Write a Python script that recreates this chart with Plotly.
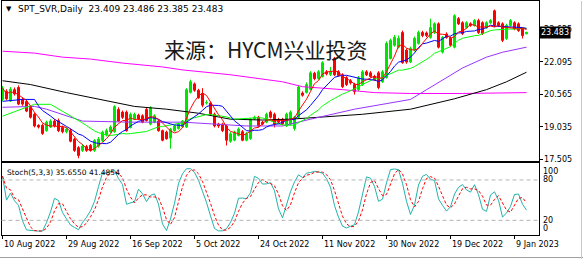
import plotly.graph_objects as go
import pandas as pd

# ---- daily candles ----
opens = [20.32, 20.70, 20.25, 20.78, 20.88, 20.32, 20.22, 19.95, 19.62, 19.10,
         19.10, 18.85, 19.02, 19.30, 19.32, 19.00, 18.80, 18.85, 18.45, 18.05,
         17.92, 18.10, 18.15, 17.92, 18.12, 18.38, 18.65, 18.80, 18.80, 19.85,
         19.72, 19.72, 19.00, 19.40, 19.58, 19.55, 19.85, 19.16, 19.25, 19.30,
         18.85, 18.78, 18.50, 18.85, 18.95, 19.02, 19.02, 20.65, 21.05, 20.75,
         20.60, 20.15, 20.15, 19.62, 19.16, 19.16, 19.07, 18.35, 18.40, 18.62,
         18.80, 18.40, 18.48, 19.40, 19.48, 19.25, 19.25, 19.72, 19.62, 19.38,
         19.38, 19.07, 19.16, 18.95, 19.48, 20.62, 20.65, 20.80, 21.55, 21.30,
         21.40, 21.62, 21.50, 22.25, 21.62, 21.48, 21.35, 21.20, 21.02, 20.78,
         21.02, 21.62, 21.57, 21.40, 21.57, 21.15, 21.35, 22.25, 22.87, 22.78,
         23.47, 22.64, 22.08, 22.64, 22.96, 23.47, 23.45, 23.24, 23.47, 23.88,
         22.55, 23.40, 23.20, 22.78, 24.12, 23.93, 23.70, 23.88, 23.80, 24.03,
         23.93, 23.70, 23.93, 24.49, 23.93, 23.88, 23.19, 23.80, 23.93, 23.88,
         23.65, 23.409]
highs = [20.95, 20.80, 20.90, 20.88, 20.98, 20.40, 20.30, 20.02, 19.70, 19.15,
         19.18, 19.32, 19.38, 19.40, 19.42, 19.08, 19.00, 18.95, 18.52, 18.12,
         18.22, 18.18, 18.22, 18.45, 18.55, 18.85, 18.95, 19.10, 20.05, 19.95,
         19.80, 19.80, 19.70, 19.70, 19.65, 19.62, 19.92, 20.00, 19.62, 19.38,
         18.90, 18.85, 18.98, 19.12, 19.22, 19.35, 20.85, 21.25, 21.12, 20.82,
         20.85, 20.28, 20.22, 19.70, 19.22, 19.22, 19.12, 18.78, 18.85, 19.00,
         18.88, 18.78, 19.45, 19.55, 19.55, 19.32, 19.70, 19.80, 19.70, 19.45,
         19.45, 19.70, 19.80, 19.55, 20.98, 20.70, 21.12, 21.65, 21.62, 21.70,
         22.12, 21.70, 21.85, 22.32, 21.70, 21.55, 21.42, 21.28, 21.10, 21.42,
         21.70, 21.70, 21.65, 21.48, 21.65, 21.70, 23.05, 23.18, 23.35, 23.33,
         23.56, 22.72, 22.80, 23.28, 23.56, 23.55, 23.52, 24.12, 23.95, 23.95,
         23.30, 23.48, 23.28, 24.33, 24.20, 24.00, 24.00, 23.95, 24.10, 24.12,
         24.00, 24.00, 24.10, 24.55, 24.00, 23.95, 23.88, 24.10, 24.00, 23.95,
         23.72, 23.486]
lows = [20.25, 20.28, 20.20, 20.50, 20.05, 20.02, 19.72, 19.42, 19.00, 18.95,
        18.65, 18.80, 18.98, 19.00, 18.78, 18.72, 18.72, 18.30, 17.85, 17.55,
        17.85, 17.85, 17.86, 17.85, 18.05, 18.32, 18.58, 18.75, 18.75, 19.25,
        19.40, 18.80, 18.95, 19.35, 19.35, 19.20, 19.28, 19.10, 19.20, 18.80,
        18.35, 18.42, 18.00, 18.80, 18.90, 18.98, 18.98, 20.60, 20.68, 20.35,
        19.95, 20.08, 19.55, 19.00, 18.98, 18.78, 18.15, 18.28, 18.35, 18.58,
        18.35, 18.35, 18.42, 19.35, 19.00, 19.10, 19.20, 19.42, 19.00, 19.20,
        19.10, 19.02, 19.10, 18.85, 19.42, 20.45, 20.60, 20.75, 21.22, 21.25,
        21.35, 21.45, 21.42, 21.42, 21.40, 20.85, 20.95, 21.02, 20.55, 20.72,
        20.95, 21.42, 21.35, 21.20, 20.80, 21.10, 21.30, 22.20, 22.80, 22.72,
        22.00, 22.00, 22.03, 22.58, 22.90, 23.25, 23.25, 23.18, 23.40, 22.72,
        22.48, 23.18, 22.80, 22.72, 23.82, 23.35, 23.65, 23.74, 23.75, 23.40,
        23.35, 23.65, 23.88, 23.72, 23.74, 23.02, 23.12, 23.75, 23.58, 23.50,
        23.19, 23.385]
closes = [20.85, 20.35, 20.80, 20.58, 20.10, 20.10, 19.77, 19.48, 19.07, 19.02,
          18.72, 19.25, 19.30, 19.07, 18.85, 18.80, 18.92, 18.35, 17.92, 17.68,
          18.12, 17.92, 17.92, 18.38, 18.45, 18.78, 18.85, 19.02, 19.98, 19.30,
          19.48, 18.85, 19.62, 19.62, 19.40, 19.25, 19.32, 19.92, 19.55, 18.85,
          18.40, 18.47, 18.92, 19.07, 19.16, 19.30, 20.78, 21.15, 20.75, 20.40,
          20.05, 20.18, 19.62, 19.07, 19.07, 18.85, 18.40, 18.70, 18.78, 18.92,
          18.40, 18.70, 19.38, 19.48, 19.07, 19.16, 19.62, 19.48, 19.16, 19.25,
          19.16, 19.62, 19.72, 19.48, 20.90, 20.52, 21.02, 21.57, 21.30, 21.62,
          22.05, 21.52, 21.62, 21.48, 21.45, 20.92, 21.02, 21.10, 20.69, 21.34,
          21.62, 21.48, 21.40, 21.25, 20.88, 21.62, 22.96, 23.10, 23.25, 23.20,
          22.05, 22.08, 22.72, 23.20, 23.47, 23.33, 23.33, 23.70, 23.88, 22.78,
          23.24, 23.24, 22.87, 24.26, 23.88, 23.42, 23.93, 23.80, 24.03, 23.47,
          23.42, 23.93, 24.03, 23.80, 23.80, 23.10, 23.80, 24.03, 23.65, 23.56,
          23.33, 23.483]

# ---- time axis labels (bar index of each label) ----
tick_bars = [0, 16, 32, 48, 64, 80, 96, 112, 128]
tick_labels = ["10 Aug 2022", "29 Aug 2022", "16 Sep 2022", "5 Oct 2022",
               "24 Oct 2022", "11 Nov 2022", "30 Nov 2022", "19 Dec 2022",
               "9 Jan 2023"]
price_ticks = [17.505, 19.035, 20.565, 22.095, 23.625]

# ---- slow moving averages (bar index, value) ----
ma50_bars = [0, 8, 11, 20, 32, 45, 61, 70, 77, 88, 102, 110, 115, 121, 125, 131]
ma50_vals = [19.95, 19.99, 19.86, 19.30, 19.25, 19.25, 19.07, 19.07, 19.39,
             19.86, 20.32, 21.25, 21.80, 22.31, 22.54, 22.78]
ma100_bars = [0, 7, 16, 24, 33, 41, 49, 57, 65, 72, 80, 90, 102, 113, 121, 126, 131]
ma100_vals = [21.20, 21.02, 20.64, 20.32, 19.99, 19.86, 19.67, 19.39, 19.35,
              19.39, 19.49, 19.62, 19.86, 20.35, 20.78, 21.15, 21.60]
ma200_bars = [0, 8, 15, 22, 30, 40, 45, 57, 70, 75, 85, 93, 102, 115, 131]
ma200_vals = [22.59, 22.50, 22.31, 22.22, 22.03, 21.85, 21.71, 21.48, 21.15,
              20.92, 20.78, 20.64, 20.60, 20.60, 20.64]
# start of the 10- and 20-bar averages (their history lies left of the window)
ma10_lead_bars = [0, 5, 8]
ma10_lead_vals = [20.23, 20.32, 20.32]
ma20_lead_bars = [0, 8, 12]
ma20_lead_vals = [19.53, 20.09, 20.09]

stoch_last_k = "35.6550"
stoch_last_d = "41.4854"
last_price = 23.483

W, H = 583, 262
n = len(closes)
xs = list(range(n))
o = pd.Series(opens); h = pd.Series(highs); l = pd.Series(lows); c = pd.Series(closes)

ma5 = c.rolling(5, min_periods=1).mean()
ma10 = c.rolling(10).mean()
ma20 = c.rolling(20).mean()
blue_x = ma10_lead_bars + xs[9:]
blue_y = ma10_lead_vals + list(ma10[9:])
green_x = ma20_lead_bars + xs[19:]
green_y = ma20_lead_vals + list(ma20[19:])

ll = l.rolling(5, min_periods=1).min()
hh = h.rolling(5, min_periods=1).max()
k = 100 * (c - ll).rolling(3, min_periods=1).sum() / (hh - ll).rolling(3, min_periods=1).sum()
d = k.rolling(3, min_periods=1).mean()

UP = "#00e600"
DN = "#ff0000"

fig = go.Figure()

# wicks
for up, col in [(True, UP), (False, DN)]:
    wx, wy = [], []
    bx, bb, bh = [], [], []
    for i in range(n):
        if (closes[i] >= opens[i]) == up:
            wx += [i, i, None]
            wy += [lows[i], highs[i], None]
            bx.append(i)
            bb.append(min(opens[i], closes[i]))
            bh.append(abs(closes[i] - opens[i]))
    fig.add_trace(go.Scatter(x=wx, y=wy, mode="lines", line=dict(color=col, width=1),
                             xaxis="x", yaxis="y", hoverinfo="skip", showlegend=False))
    fig.add_trace(go.Bar(x=bx, y=bh, base=bb, width=0.5,
                         marker=dict(color=col, line=dict(color=col, width=1)),
                         xaxis="x", yaxis="y", showlegend=False))

def line(xv, yv, col, dash=None, ax="x", ay="y"):
    fig.add_trace(go.Scatter(x=xv, y=yv, mode="lines",
                             line=dict(color=col, width=1, dash=dash),
                             xaxis=ax, yaxis=ay, hoverinfo="skip", showlegend=False))

line(ma200_bars, ma200_vals, "#ff00ff")
line(ma100_bars, ma100_vals, "#000000")
line(ma50_bars, ma50_vals, "#9933ff")
line(green_x, green_y, "#00ff00")
line(blue_x, blue_y, "#0000ff")
line(xs, list(ma5), "#ff0000")

line(xs, list(k), "#20b2aa", ax="x2", ay="y2")
line(xs, list(d), "#ff0000", dash="3px,2px", ax="x2", ay="y2")

def py(p):
    return 1 - p / H

xdom = [1.5 / W, 538.5 / W]
xr = [-0.25, 134]
font = dict(family="DejaVu Sans", size=8, color="#000000")

fig.update_layout(
    width=W, height=H, margin=dict(l=0, r=0, t=0, b=0),
    paper_bgcolor="white", plot_bgcolor="white", barmode="overlay",
    showlegend=False, font=font,
    xaxis=dict(domain=xdom, range=xr, anchor="y", showline=True, mirror=True,
               linecolor="black", linewidth=1, showgrid=False, zeroline=False,
               showticklabels=False, ticks=""),
    yaxis=dict(domain=[py(162.5), py(0.5)], range=[17.42, 24.93], side="right",
               anchor="x", tickvals=price_ticks,
               ticktext=["%.3f" % v for v in price_ticks], ticks="outside",
               ticklen=3, tickcolor="black", showline=True, mirror=True,
               linecolor="black", linewidth=1, showgrid=False, zeroline=False,
               tickfont=font),
    xaxis2=dict(domain=xdom, range=xr, anchor="y2", showline=True, mirror=True,
                linecolor="black", linewidth=1, showgrid=False, zeroline=False,
                tickvals=tick_bars, showticklabels=False, ticks="outside",
                ticklen=3, tickcolor="black"),
    yaxis2=dict(domain=[py(237.3), py(164.5)], range=[-1.3, 105.2], anchor="x2",
                showline=True, mirror=True, linecolor="black", linewidth=1,
                showgrid=False, zeroline=False, showticklabels=False, ticks=""),
)

shapes = []
for lev in [20, 80]:
    shapes.append(dict(type="line", xref="x2 domain", yref="y2", x0=0, x1=1,
                       y0=lev, y1=lev, line=dict(color="#b4b4b4", width=1, dash="4px,3px")))
shapes.append(dict(type="line", xref="paper", yref="paper", x0=0, x1=1,
                   y0=py(260.5), y1=py(260.5), line=dict(color="#a0a0a0", width=1)))
shapes.append(dict(type="line", xref="paper", yref="paper", x0=581.5 / W, x1=581.5 / W,
                   y0=0, y1=1, line=dict(color="#c8c8c8", width=1)))
fig.update_layout(shapes=shapes)

ann = []
ann.append(dict(xref="paper", yref="paper", x=4 / W, y=py(8), text="▼", showarrow=False,
                xanchor="left", yanchor="middle", font=dict(family="DejaVu Sans", size=7, color="black")))
ann.append(dict(xref="paper", yref="paper", x=16 / W, y=py(8),
                text="SPT_SVR,Daily  23.409 23.486 23.385 23.483", showarrow=False,
                xanchor="left", yanchor="middle", font=dict(family="DejaVu Sans", size=9, color="black")))
ann.append(dict(xref="paper", yref="paper", x=266 / W, y=py(49), text="来源：HYCM兴业投资",
                showarrow=False, xanchor="center", yanchor="middle",
                font=dict(family="Noto Sans CJK SC", size=21, color="#1a1a1a")))
ann.append(dict(xref="paper", yref="y", x=539 / W, y=last_price, text="%.3f" % last_price,
                showarrow=False, xanchor="left", yanchor="middle", bgcolor="black",
                borderpad=1, font=dict(family="DejaVu Sans", size=8, color="white")))
ann.append(dict(xref="paper", yref="paper", x=5 / W, y=py(174),
                text="Stoch(5,3,3) %s %s" % (stoch_last_k, stoch_last_d), showarrow=False,
                xanchor="left", yanchor="middle", font=dict(family="DejaVu Sans", size=7.5, color="black")))
for lab, yp in [("100", 172.7), ("80", 181.7), ("20", 222.7), ("0", 231)]:
    ann.append(dict(xref="paper", yref="paper", x=541 / W, y=py(yp), text=lab, showarrow=False,
                    xanchor="left", yanchor="middle", font=font))
for tb, lab in zip(tick_bars, tick_labels):
    ann.append(dict(xref="x2", yref="paper", x=tb, y=py(247), text=lab, showarrow=False,
                    xanchor="left", yanchor="middle", xshift=-1, font=font))
fig.update_layout(annotations=ann)

fig.write_html("out.html")
